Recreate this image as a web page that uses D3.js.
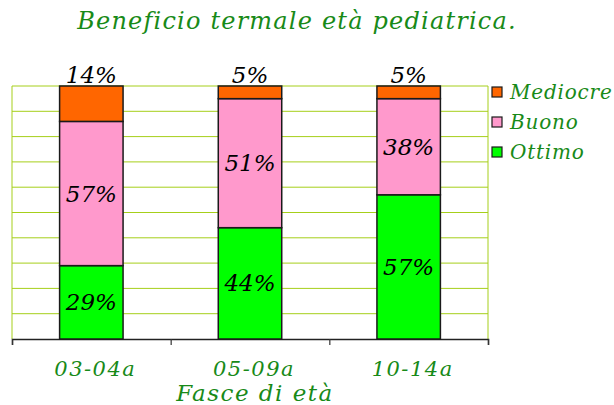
<!DOCTYPE html>
<html>
<head>
<meta charset="utf-8">
<script src="https://cdn.jsdelivr.net/npm/d3@7"></script>
<style>
  body { margin: 0; background: #fff; }
  text { font-family: "DejaVu Serif", serif; font-style: italic; }
</style>
</head>
<body>
<svg width="614" height="405"></svg>
<script>
// dati
var fasce = ["03-04a", "05-09a", "10-14a"];
var ottimo = [29, 44, 57];
var buono = [57, 51, 38];
var mediocre = [14, 5, 5];
var serie = ["Ottimo", "Buono", "Mediocre"];
var colori = ["#00ff00", "#ff99cc", "#ff6600"];
var yTicks = [0, 10, 20, 30, 40, 50, 60, 70, 80, 90, 100];

var svg = d3.select("svg");
var mLeft = 12, mRight = 488, mTop = 86, mBottom = 339;
var green = "#188a18";

var x = d3.scaleBand().domain(fasce).range([mLeft, mRight]).paddingInner(0.6).paddingOuter(0.3);
var y = d3.scaleLinear().domain([0, 100]).range([mBottom, mTop]);

var rows = fasce.map(function (f, i) {
  return { fascia: f, Ottimo: ottimo[i], Buono: buono[i], Mediocre: mediocre[i] };
});
var stacked = d3.stack().keys(serie)(rows);

// griglia
svg.append("g")
  .selectAll("line")
  .data(yTicks.slice(1))
  .enter()
  .append("line")
  .attr("x1", mLeft).attr("x2", mRight)
  .attr("y1", function (d) { return y(d); })
  .attr("y2", function (d) { return y(d); })
  .attr("stroke", "#a6cf1a").attr("stroke-width", 1);

svg.append("line").attr("x1", mLeft).attr("x2", mLeft).attr("y1", mTop).attr("y2", mBottom)
  .attr("stroke", "#a6cf1a");
svg.append("line").attr("x1", mRight).attr("x2", mRight).attr("y1", mTop).attr("y2", mBottom)
  .attr("stroke", "#a6cf1a");

// asse x con tacche ai confini delle fasce
var xb = d3.scaleLinear().domain([0, fasce.length]).range([mLeft, mRight]);
svg.append("g")
  .attr("transform", "translate(0," + mBottom + ")")
  .call(d3.axisBottom(xb).tickValues(d3.range(fasce.length + 1)).tickSize(6).tickSizeOuter(6).tickFormat(""))
  .call(function (g) {
    g.select(".domain").attr("stroke", "#222").attr("stroke-width", 1.5);
    g.selectAll(".tick line").attr("stroke", "#333").attr("stroke-width", 1.2);
  });

// barre
var layer = svg.append("g")
  .selectAll("g")
  .data(stacked)
  .enter()
  .append("g")
  .attr("fill", function (d, i) { return colori[i]; });

layer.selectAll("rect")
  .data(function (d) { return d; })
  .enter()
  .append("rect")
  .attr("x", function (d) { return x(d.data.fascia); })
  .attr("width", x.bandwidth())
  .attr("y", function (d) { return y(d[1]); })
  .attr("height", function (d) { return y(d[0]) - y(d[1]); })
  .attr("stroke", "#1a1a1a")
  .attr("stroke-width", 1.5);

// etichette valori
stacked.forEach(function (s, i) {
  svg.append("g")
    .selectAll("text")
    .data(s)
    .enter()
    .append("text")
    .attr("x", function (d) { return x(d.data.fascia) + x.bandwidth() / 2; })
    .attr("y", function (d) {
      return s.key === "Mediocre" ? y(d[1]) - 3 : (y(d[0]) + y(d[1])) / 2;
    })
    .attr("dy", s.key === "Mediocre" ? 0 : "0.35em")
    .attr("text-anchor", "middle")
    .attr("font-size", 23)
    .attr("fill", "#000")
    .text(function (d) { return (d[1] - d[0]) + "%"; });
});

// etichette categorie
svg.append("g")
  .selectAll("text")
  .data(fasce)
  .enter()
  .append("text")
  .attr("x", function (d) { return x(d) + x.bandwidth() / 2 + 4; })
  .attr("y", 376)
  .attr("text-anchor", "middle")
  .attr("font-size", 21)
  .attr("letter-spacing", 1.5)
  .attr("fill", green)
  .text(function (d) { return d; });

svg.append("text")
  .attr("x", 255).attr("y", 401)
  .attr("text-anchor", "middle")
  .attr("font-size", 23)
  .attr("letter-spacing", 1.5)
  .attr("fill", green)
  .text("Fasce di età");

// titolo
svg.append("text")
  .attr("x", 297).attr("y", 29)
  .attr("text-anchor", "middle")
  .attr("font-size", 24)
  .attr("letter-spacing", 1.2)
  .attr("fill", green)
  .text("Beneficio termale età pediatrica.");

// legenda
var legend = svg.append("g")
  .selectAll("g")
  .data(serie.slice().reverse())
  .enter()
  .append("g")
  .attr("transform", function (d, i) { return "translate(492," + (87 + i * 30) + ")"; });

legend.append("rect")
  .attr("width", 10).attr("height", 10)
  .attr("fill", function (d) { return colori[serie.indexOf(d)]; })
  .attr("stroke", "#1a1a1a").attr("stroke-width", 1.2);

legend.append("text")
  .attr("x", 18).attr("y", 12)
  .attr("font-size", 20)
  .attr("letter-spacing", 0.8)
  .attr("fill", green)
  .text(function (d) { return d; });
</script>
</body>
</html>
